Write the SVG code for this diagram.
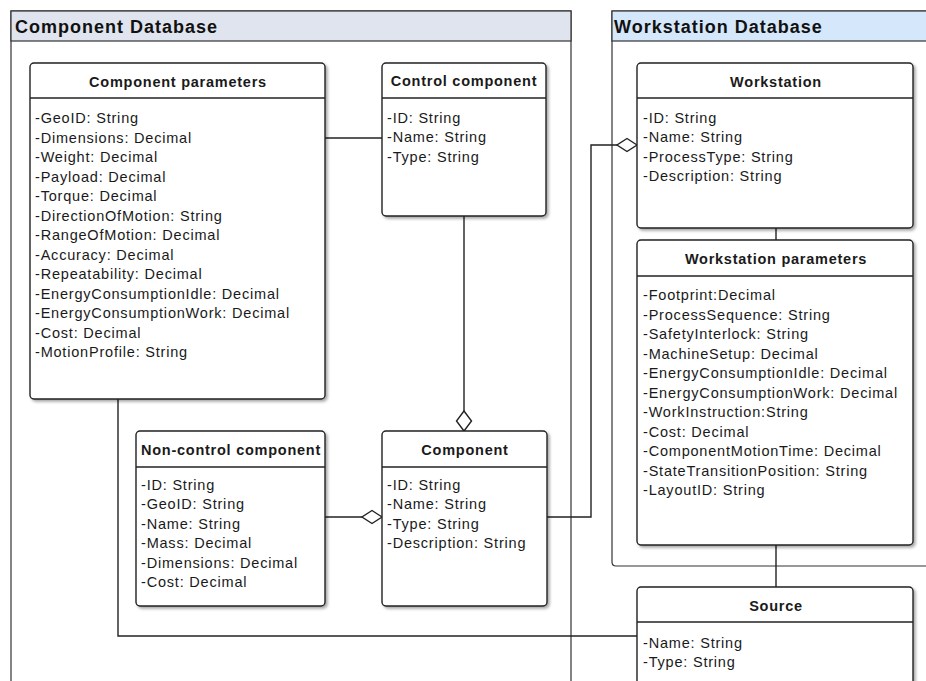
<svg xmlns="http://www.w3.org/2000/svg" width="926" height="681" viewBox="0 0 926 681">
  <defs>
    <filter id="shadow" x="-10%" y="-10%" width="130%" height="130%">
      <feDropShadow dx="2" dy="2" stdDeviation="1.6" flood-color="#000" flood-opacity="0.35"/>
    </filter>
  </defs>
  <style>
    .frame { fill: #fff; stroke: #333; stroke-width: 1.2; }
    .frame-head-cd { fill: #e0e4ee; stroke: #333; stroke-width: 1.2; }
    .frame-head-wd { fill: #d5e7fb; stroke: #333; stroke-width: 1.2; }
    .frame-title { font-family: "Liberation Sans", Arial, sans-serif; font-weight: bold; font-size: 18px; letter-spacing: 1px; fill: #111; }
    .box { fill: #fff; stroke: #222; stroke-width: 1.4; filter: url(#shadow); }
    .sep { stroke: #222; stroke-width: 1.4; }
    .title { font-family: "Liberation Sans", Arial, sans-serif; font-weight: bold; font-size: 14.5px; letter-spacing: 0.75px; fill: #1a1a1a; text-anchor: middle; }
    .attr { font-family: "Liberation Sans", Arial, sans-serif; font-size: 14.5px; letter-spacing: 0.8px; fill: #1a1a1a; }
    .link { fill: none; stroke: #222; stroke-width: 1.4; }
    .diamond { fill: #fff; stroke: #222; stroke-width: 1.4; }
  </style>

  <!-- Package: Component Database -->
  <g id="component-database">
    <rect class="frame" x="11" y="11" width="560" height="700"/>
    <rect class="frame-head-cd" x="11" y="11" width="560" height="30"/>
    <text class="frame-title" x="15" y="33">Component Database</text>
  </g>

  <!-- Package: Workstation Database -->
  <g id="workstation-database">
    <path class="frame" d="M612,11 H940 V566 H616 Q612,566 612,562 Z"/>
    <rect class="frame-head-wd" x="612" y="11" width="328" height="30"/>
    <text class="frame-title" x="614" y="33">Workstation Database</text>
  </g>

  <!-- Connectors -->
  <g id="connectors">
    <!-- parameters to control component -->
    <path class="link" d="M325,138 H382"/>
    <!-- control component aggregated into component -->
    <path class="link" d="M464,216 V411"/>
    <path class="diamond" d="M464,431 L456.5,421 L464,411 L471.5,421 Z"/>
    <!-- non-control component aggregated into component -->
    <path class="link" d="M325,517 H362"/>
    <path class="diamond" d="M382,517 L372,510.5 L362,517 L372,523.5 Z"/>
    <!-- component aggregated into workstation -->
    <path class="link" d="M547,517 H591 V145 H617"/>
    <path class="diamond" d="M637,145 L627,138.5 L617,145 L627,151.5 Z"/>
    <!-- workstation to its parameters -->
    <path class="link" d="M776,228 V240"/>
    <!-- workstation parameters to source -->
    <path class="link" d="M776,545 V587"/>
    <!-- component parameters to source -->
    <path class="link" d="M118,399 V636 H637"/>
  </g>

  <!-- Class: Component parameters -->
  <g id="component-parameters">
    <rect class="box" x="30" y="63" width="295" height="336" rx="4"/>
    <line class="sep" x1="30" y1="98" x2="325" y2="98"/>
    <text class="title" x="178" y="87">Component parameters</text>
    <text class="attr">
      <tspan x="35" y="123">-GeoID: String</tspan>
      <tspan x="35" y="142.5">-Dimensions: Decimal</tspan>
      <tspan x="35" y="162">-Weight: Decimal</tspan>
      <tspan x="35" y="181.5">-Payload: Decimal</tspan>
      <tspan x="35" y="201">-Torque: Decimal</tspan>
      <tspan x="35" y="220.5">-DirectionOfMotion: String</tspan>
      <tspan x="35" y="240">-RangeOfMotion: Decimal</tspan>
      <tspan x="35" y="259.5">-Accuracy: Decimal</tspan>
      <tspan x="35" y="279">-Repeatability: Decimal</tspan>
      <tspan x="35" y="298.5">-EnergyConsumptionIdle: Decimal</tspan>
      <tspan x="35" y="318">-EnergyConsumptionWork: Decimal</tspan>
      <tspan x="35" y="337.5">-Cost: Decimal</tspan>
      <tspan x="35" y="357">-MotionProfile: String</tspan>
    </text>
  </g>

  <!-- Class: Control component -->
  <g id="control-component">
    <rect class="box" x="382" y="63" width="164" height="153" rx="4"/>
    <line class="sep" x1="382" y1="98" x2="546" y2="98"/>
    <text class="title" x="464" y="86">Control component</text>
    <text class="attr">
      <tspan x="387" y="122.5">-ID: String</tspan>
      <tspan x="387" y="142">-Name: String</tspan>
      <tspan x="387" y="161.5">-Type: String</tspan>
    </text>
  </g>

  <!-- Class: Non-control component -->
  <g id="non-control-component">
    <rect class="box" x="136" y="431" width="189" height="175" rx="4"/>
    <line class="sep" x1="136" y1="467" x2="325" y2="467"/>
    <text class="title" x="231" y="455">Non-control component</text>
    <text class="attr">
      <tspan x="141" y="489.5">-ID: String</tspan>
      <tspan x="141" y="509">-GeoID: String</tspan>
      <tspan x="141" y="528.5">-Name: String</tspan>
      <tspan x="141" y="548">-Mass: Decimal</tspan>
      <tspan x="141" y="567.5">-Dimensions: Decimal</tspan>
      <tspan x="141" y="587">-Cost: Decimal</tspan>
    </text>
  </g>

  <!-- Class: Component -->
  <g id="component">
    <rect class="box" x="382" y="431" width="165" height="175" rx="4"/>
    <line class="sep" x1="382" y1="467" x2="547" y2="467"/>
    <text class="title" x="465" y="455">Component</text>
    <text class="attr">
      <tspan x="387" y="489.5">-ID: String</tspan>
      <tspan x="387" y="509">-Name: String</tspan>
      <tspan x="387" y="528.5">-Type: String</tspan>
      <tspan x="387" y="548">-Description: String</tspan>
    </text>
  </g>

  <!-- Class: Workstation -->
  <g id="workstation">
    <rect class="box" x="637" y="63" width="276" height="165" rx="4"/>
    <line class="sep" x1="637" y1="98" x2="913" y2="98"/>
    <text class="title" x="776" y="87">Workstation</text>
    <text class="attr">
      <tspan x="643" y="122.5">-ID: String</tspan>
      <tspan x="643" y="142">-Name: String</tspan>
      <tspan x="643" y="161.5">-ProcessType: String</tspan>
      <tspan x="643" y="181">-Description: String</tspan>
    </text>
  </g>

  <!-- Class: Workstation parameters -->
  <g id="workstation-parameters">
    <rect class="box" x="637" y="240" width="276" height="305" rx="4"/>
    <line class="sep" x1="637" y1="276" x2="913" y2="276"/>
    <text class="title" x="776" y="264">Workstation parameters</text>
    <text class="attr">
      <tspan x="643" y="300">-Footprint:Decimal</tspan>
      <tspan x="643" y="319.5">-ProcessSequence: String</tspan>
      <tspan x="643" y="339">-SafetyInterlock: String</tspan>
      <tspan x="643" y="358.5">-MachineSetup: Decimal</tspan>
      <tspan x="643" y="378">-EnergyConsumptionIdle: Decimal</tspan>
      <tspan x="643" y="397.5">-EnergyConsumptionWork: Decimal</tspan>
      <tspan x="643" y="417">-WorkInstruction:String</tspan>
      <tspan x="643" y="436.5">-Cost: Decimal</tspan>
      <tspan x="643" y="456">-ComponentMotionTime: Decimal</tspan>
      <tspan x="643" y="475.5">-StateTransitionPosition: String</tspan>
      <tspan x="643" y="495">-LayoutID: String</tspan>
    </text>
  </g>

  <!-- Class: Source -->
  <g id="source">
    <rect class="box" x="637" y="587" width="276" height="130" rx="4"/>
    <line class="sep" x1="637" y1="622" x2="913" y2="622"/>
    <text class="title" x="776" y="611">Source</text>
    <text class="attr">
      <tspan x="643" y="647.5">-Name: String</tspan>
      <tspan x="643" y="667">-Type: String</tspan>
    </text>
  </g>
</svg>
